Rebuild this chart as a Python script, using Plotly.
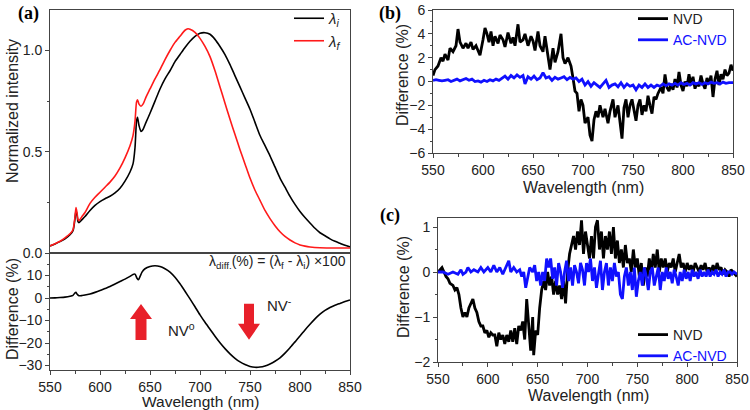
import plotly.graph_objects as go

# ---------------- Panel (a) data ----------------
wl_i = [550, 555, 560, 565, 570, 573, 575, 576, 577, 578, 579, 582, 585, 590, 595, 600, 605, 610, 615, 620,
        625, 630, 633, 635, 636.5, 637.5, 639, 641, 643, 646, 650, 655, 660, 665, 670, 675, 680, 685, 690, 695,
        700, 705, 710, 715, 720, 725, 730, 735, 740, 745, 750, 755, 760, 765, 770, 775, 780, 785, 790, 795,
        800, 805, 810, 815, 820, 825, 830, 835, 840, 845, 850]
lam_i = [0.035, 0.045, 0.056, 0.07, 0.09, 0.11, 0.17, 0.21, 0.19, 0.155, 0.15, 0.165, 0.18, 0.21, 0.235, 0.254, 0.268, 0.28, 0.297, 0.32,
         0.355, 0.40, 0.44, 0.52, 0.65, 0.67, 0.63, 0.60, 0.61, 0.645, 0.69, 0.75, 0.81, 0.86, 0.90, 0.945, 0.98, 1.015, 1.046, 1.07,
         1.085, 1.088, 1.08, 1.055, 1.02, 0.98, 0.93, 0.875, 0.82, 0.765, 0.71, 0.645, 0.58, 0.53, 0.48, 0.425, 0.37, 0.325, 0.28, 0.24,
         0.205, 0.175, 0.148, 0.122, 0.10, 0.085, 0.07, 0.058, 0.048, 0.038, 0.03]

wl_f = [550, 555, 560, 565, 570, 573, 575, 576, 577, 578, 579, 582, 585, 590, 595, 600, 605, 610, 615, 620,
        625, 630, 633, 635, 636.5, 637.5, 639, 641, 643, 646, 650, 655, 660, 665, 670, 675, 680, 685, 688, 690,
        695, 700, 705, 710, 715, 720, 725, 730, 735, 740, 745, 750, 755, 760, 765, 770, 775, 780, 785, 790,
        795, 800, 805, 810, 820, 830, 840, 850]
lam_f = [0.035, 0.046, 0.058, 0.075, 0.095, 0.115, 0.18, 0.225, 0.2, 0.165, 0.16, 0.18, 0.2, 0.245, 0.275, 0.30, 0.325, 0.35, 0.38, 0.42,
         0.47, 0.53, 0.58, 0.65, 0.745, 0.757, 0.735, 0.725, 0.735, 0.77, 0.81, 0.86, 0.905, 0.955, 1.0, 1.04, 1.07, 1.1, 1.107, 1.105,
         1.09, 1.06, 1.02, 0.97, 0.9, 0.82, 0.74, 0.66, 0.585, 0.51, 0.44, 0.37, 0.31, 0.26, 0.21, 0.17, 0.135, 0.105, 0.082, 0.064,
         0.05, 0.04, 0.034, 0.03, 0.026, 0.025, 0.025, 0.025]

wl_diff = [550, 555, 560, 565, 570, 573, 575, 576, 577, 579, 582, 585, 590, 595, 600, 605, 610, 615, 620, 625,
           630, 633, 635, 637, 638.5, 640, 642, 645, 650, 655, 660, 665, 670, 675, 680, 685, 690, 695, 700, 705,
           710, 715, 720, 725, 730, 735, 740, 745, 750, 755, 760, 765, 770, 775, 780, 785, 790, 795, 800, 805,
           810, 815, 820, 825, 830, 835, 840, 845, 850]
diff_a = [0, 0.05, 0.2, 0.4, 0.8, 1.2, 2.3, 2.5, 1.8, 1.0, 1.1, 1.3, 1.8, 2.5, 3.3, 4.2, 5.1, 6.2, 7.3, 8.4,
          9.6, 10.5, 10.6, 8.8, 8.1, 9.5, 11.5, 13, 14, 14.3, 14, 13, 11.5, 9.2, 6.3, 3.0, -0.4, -3.9, -7.5, -10.8,
          -13.9, -17, -19.9, -22.5, -24.8, -26.8, -28.4, -29.6, -30.4, -30.8, -30.7, -30.2, -29.3, -28.1, -26.6, -24.5, -22.1, -19.5, -16.9, -14.2,
          -11.7, -9.3, -7.2, -5.5, -4.2, -3.2, -2.4, -1.6, -0.9]

# ---------------- Panel (b) data ----------------
wl_b_nvd = [550, 552, 555, 558, 560, 562, 565, 567, 570, 573, 575, 577, 580, 583, 585, 588, 590, 593, 595, 597,
            600, 602, 604, 606, 608, 610, 612, 615, 617, 620, 622, 625, 628, 630, 632, 635, 637, 640, 642, 645,
            648, 650, 652, 655, 657, 660, 662, 665, 667, 670, 672, 675, 678, 680, 682, 685, 688, 690, 692, 694,
            696, 698, 700, 702, 705, 707, 709, 711, 713, 715, 717, 720, 722, 725, 727, 730, 732, 735, 737, 739,
            741, 743, 745, 747, 749, 751, 753, 755, 757, 759, 761, 763, 765, 767, 769, 771, 773, 775, 778, 780,
            782, 784, 786, 788, 790, 792, 794, 796, 798, 800, 802, 804, 806, 808, 810, 812, 814, 816, 818, 820,
            822, 824, 826, 828, 830, 832, 834, 836, 838, 840, 842, 844, 846, 848, 850]
nvd_b = [0.5, 1.0, 1.3, 2.0, 1.7, 2.3, 1.8, 2.8, 2.5, 3.0, 4.4, 3.3, 2.8, 3.2, 2.8, 3.3, 2.7, 3.0, 2.6, 2.2,
         3.5, 4.5, 4.0, 3.3, 4.2, 3.0, 3.8, 3.2, 3.9, 3.5, 2.9, 4.1, 3.2, 3.7, 3.0, 4.8, 3.3, 3.5, 4.0, 3.0,
         3.8, 3.4, 2.6, 4.2, 3.0, 2.5, 3.8, 2.0, 1.0, 2.8, 1.6, 2.5, 4.0, 2.0, 1.5, 2.0, 1.3, 0.3, -0.8, -1.0,
         -2.5, -1.5, -2.0, -3.5, -3.0, -4.5, -5.0, -3.2, -2.5, -3.0, -2.0, -3.0, -2.3, -3.5, -2.5, -1.5, -3.0, -2.0, -3.5, -4.8,
         -2.2, -1.5, -3.0, -2.0, -1.5, -2.5, -3.3, -2.0, -1.5, -2.8, -2.0, -2.5, -1.2, -2.0, -2.7, -1.3, -1.5, -1.0, -0.5, -1.0,
         0.6, -0.5, -0.8, -0.2, -0.7, 0.2, -0.5, 0.8, -0.3, -0.8, 0.0, -0.4, 0.6, -0.3, 0.4, -0.6, -0.1, -0.4, 0.5, -0.2,
         -0.6, 0.3, -0.2, 0.5, -1.3, 0.2, 0.9, -0.3, 0.6, 0.2, 1.0, 0.5, 0.7, 1.4, 0.9]

wl_b_ac = [550, 553, 556, 559, 562, 565, 568, 571, 574, 577, 580, 583, 586, 589, 592, 595, 598, 601, 604, 607,
           610, 613, 616, 619, 622, 625, 628, 631, 634, 637, 640, 642, 645, 648, 651, 654, 657, 660, 663, 666,
           669, 672, 675, 678, 681, 684, 687, 690, 693, 696, 699, 702, 705, 708, 711, 714, 717, 720, 723, 726,
           729, 732, 735, 738, 741, 744, 747, 750, 753, 756, 759, 762, 765, 768, 771, 774, 777, 780, 783, 786,
           789, 792, 795, 798, 801, 804, 807, 810, 813, 816, 819, 822, 825, 828, 831, 834, 837, 840, 843, 846, 850]
ac_b = [0.1, 0.15, 0.1, 0.05, 0.1, 0.15, 0.0, 0.1, 0.2, 0.05, 0.15, 0.25, 0.1, 0.2, 0.0, 0.05, -0.05, 0.1, 0.0, 0.15,
        0.05, 0.2, 0.1, 0.3, 0.45, 0.2, 0.5, 0.3, 0.55, 0.35, 0.5, -0.2, 0.4, 0.2, 0.45, 0.15, 0.3, 0.75, 0.3, 0.4,
        0.1, 0.35, 0.2, 0.3, 0.4, 0.15, 0.35, 0.2, 0.3, 0.0, 0.2, -0.3, 0.0, -0.4, -0.1, -0.3, -0.5, -0.2, 0.1, -0.5,
        -0.3, -0.2, -0.45, -0.1, -0.5, -0.2, -0.4, -0.3, -0.7, -0.3, -0.5, -0.2, -0.5, -0.3, -0.5, -0.3, -0.4, -0.2, -0.35, -0.2,
        -0.3, -0.15, -0.3, -0.1, -0.25, -0.15, -0.3, -0.1, -0.2, -0.1, -0.25, -0.1, -0.2, -0.05, -0.15, -0.1, -0.2, -0.05, -0.15, -0.1, -0.1]

# ---------------- Panel (c) data ----------------
wl_c_nvd = [550, 552, 554, 556, 558, 560, 562, 565, 567, 569, 571, 573, 575, 577, 579, 581, 583, 585, 587, 589,
            591, 593, 595, 597, 599, 601, 603, 605, 607, 609, 611, 613, 615, 617, 619, 621, 623, 625, 627, 629,
            631, 633, 635, 637, 639, 641, 643, 645, 646, 648, 650, 652, 654, 656, 658, 660, 662, 664, 666, 668,
            670, 672, 674, 676, 678, 680, 682, 684, 686, 688, 690, 692, 694, 696, 698, 700, 702, 704, 706, 708,
            710, 712, 714, 716, 718, 720, 722, 724, 726, 728, 730, 732, 734, 736, 738, 740, 742, 744, 746, 748,
            750, 752, 754, 756, 758, 760, 762, 764, 766, 768, 770, 772, 774, 776, 778, 780, 782, 784, 786, 788,
            790, 792, 794, 796, 798, 800, 802, 804, 806, 808, 810, 812, 814, 816, 818, 820, 822, 824, 826, 828,
            830, 832, 834, 836, 838, 840, 842, 844, 846, 848, 850]
nvd_c = [0.0, 0.05, 0.1, 0.0, -0.1, -0.15, -0.25, -0.3, -0.4, -0.35, -0.5, -0.8, -1.0, -0.9, -1.0, -0.8, -0.7, -0.6, -0.8, -0.9,
         -1.1, -1.2, -1.2, -1.35, -1.3, -1.45, -1.35, -1.4, -1.4, -1.65, -1.35, -1.5, -1.4, -1.6, -1.4, -1.55, -1.3, -1.55, -1.25, -1.6,
         -1.2, -1.3, -1.1, -1.5, -0.6, -1.2, -1.75, -1.0, -1.85, -1.3, -1.4, -0.8, -0.4, -0.2, -0.4, 0.0, -0.3, -0.1, -0.5, -0.2,
         -0.5, -0.3, -0.6, -0.2, -0.7, 0.0, 0.4, 0.6, 0.8, 0.5, 0.9, 0.6, 1.15, 0.4, 0.9, 0.6, 0.3, 0.8, 0.3, 1.0,
         1.15, 0.5, 0.9, 0.3, 0.8, 0.5, 0.9, 0.4, 1.0, 0.3, 0.7, 0.2, 0.5, 0.1, 0.6, 0.2, 0.3, 0.0, 0.5, 0.1,
         0.3, -0.1, 0.2, -0.3, 0.1, -0.1, 0.3, 0.0, 0.4, 0.1, 0.5, 0.0, 0.3, 0.1, 0.3, 0.0, 0.2, 0.1, 0.3, 0.0,
         0.2, 0.4, 0.1, 0.2, 0.0, 0.2, 0.05, 0.15, 0.0, 0.2, 0.1, 0.0, 0.15, 0.05, 0.2, 0.0, 0.1, 0.0, 0.15, 0.0,
         0.2, 0.05, 0.1, -0.05, 0.05, 0.0, -0.1, 0.05, 0.0, -0.05, -0.1]

wl_c_ac = [550, 555, 560, 565, 570, 573, 575, 578, 580, 583, 586, 590, 593, 596, 600, 603, 606, 609, 612, 615,
           618, 621, 623, 626, 629, 632, 634, 636, 638, 640, 642, 645, 647, 649, 651, 653, 655, 657, 659, 661,
           663, 665, 667, 669, 671, 673, 675, 677, 679, 681, 683, 685, 687, 689, 691, 693, 695, 697, 699, 701,
           703, 705, 707, 709, 711, 713, 715, 717, 719, 721, 723, 725, 727, 729, 731, 733, 735, 737, 739, 741,
           743, 745, 747, 749, 751, 753, 755, 757, 759, 761, 763, 765, 767, 769, 771, 773, 775, 777, 779, 781,
           783, 785, 787, 789, 791, 793, 795, 797, 799, 801, 803, 805, 807, 809, 811, 813, 815, 817, 819, 821,
           823, 825, 827, 829, 831, 833, 835, 837, 839, 841, 843, 845, 847, 850]
ac_c = [0.0, 0.0, -0.05, 0.0, -0.05, 0.05, -0.05, 0.0, 0.1, 0.0, 0.05, 0.0, 0.1, 0.0, 0.1, 0.0, 0.15, 0.0, 0.1, -0.05,
        0.1, 0.25, 0.0, 0.1, 0.0, 0.05, -0.1, 0.0, -0.35, -0.1, 0.1, 0.0, 0.15, -0.2, 0.0, -0.3, 0.0, -0.2, 0.3, 0.1,
        0.3, -0.15, 0.1, -0.3, 0.2, 0.0, -0.35, 0.0, 0.25, -0.2, 0.1, -0.3, 0.15, 0.0, -0.25, 0.2, 0.05, -0.3, 0.2, 0.0,
        0.3, -0.2, 0.1, -0.35, 0.0, 0.25, -0.4, 0.0, 0.2, -0.3, 0.1, -0.2, 0.2, -0.1, 0.0, -0.5, -0.6, -0.1, 0.1, -0.3,
        0.0, -0.4, 0.1, -0.55, -0.2, 0.0, -0.3, 0.1, -0.1, -0.4, 0.0, 0.1, -0.3, -0.1, 0.1, -0.4, 0.0, -0.2, 0.1, -0.15,
        0.0, -0.25, 0.05, -0.1, -0.3, 0.0, -0.2, 0.05, -0.15, 0.0, -0.2, 0.05, -0.1, 0.0, -0.15, 0.05, -0.1, 0.0, -0.1, 0.05,
        -0.1, 0.0, -0.05, 0.05, -0.1, 0.0, -0.05, 0.05, -0.1, 0.0, 0.0, -0.05, 0.0, -0.05]

FONT = "Liberation Sans, Arial, sans-serif"
AX = "#444444"
TXT = "#222222"
BLUE = "#1010ff"
RED = "#ff1a1a"
ARROW_RED = "#e8202a"

fig = go.Figure()

fig.add_trace(go.Scatter(x=wl_i, y=lam_i, mode="lines", name="<i>λ<sub>i</sub></i>",
                         line=dict(color="black", width=1.6, shape="spline", smoothing=0.6),
                         xaxis="x", yaxis="y", legend="legend"))
fig.add_trace(go.Scatter(x=wl_f, y=lam_f, mode="lines", name="<i>λ<sub>f</sub></i>",
                         line=dict(color=RED, width=1.6, shape="spline", smoothing=0.6),
                         xaxis="x", yaxis="y", legend="legend"))
fig.add_trace(go.Scatter(x=wl_diff, y=diff_a, mode="lines", showlegend=False,
                         line=dict(color="black", width=1.6, shape="spline", smoothing=0.6),
                         xaxis="x2", yaxis="y2"))

fig.add_trace(go.Scatter(x=wl_b_nvd, y=nvd_b, mode="lines", name="NVD",
                         line=dict(color="black", width=2.8), xaxis="x3", yaxis="y3", legend="legend2"))
fig.add_trace(go.Scatter(x=wl_b_ac, y=ac_b, mode="lines", name=f"<span style='color:{BLUE}'>AC-NVD</span>",
                         line=dict(color=BLUE, width=2.8), xaxis="x3", yaxis="y3", legend="legend2"))

fig.add_trace(go.Scatter(x=wl_c_nvd, y=nvd_c, mode="lines", name="NVD",
                         line=dict(color="black", width=2.8), xaxis="x4", yaxis="y4", legend="legend3"))
fig.add_trace(go.Scatter(x=wl_c_ac, y=ac_c, mode="lines", name=f"<span style='color:{BLUE}'>AC-NVD</span>",
                         line=dict(color=BLUE, width=2.8), xaxis="x4", yaxis="y4", legend="legend3"))

W, H = 750, 410


def px_x(p):
    return p / W


def px_y(p):
    return 1 - p / H


common = dict(showline=True, mirror=True, linecolor=AX, linewidth=1, showgrid=False, zeroline=False,
              automargin=False,
              ticks="outside", ticklen=4, tickcolor=AX, tickfont=dict(family=FONT, size=14, color=TXT))
xminor = dict(ticks="outside", ticklen=2.5, dtick=25, tickcolor=AX)

fig.update_layout(
    template="none",
    width=W, height=H, margin=dict(l=0, r=0, t=0, b=0, pad=0, autoexpand=False),
    paper_bgcolor="white", plot_bgcolor="white",
    font=dict(family=FONT, size=14, color=TXT),
    xaxis=dict(common, domain=[px_x(50), px_x(350)], range=[550, 850], anchor="y",
               showticklabels=False, ticks=""),
    yaxis=dict(common, domain=[px_y(253), px_y(10)], range=[0, 1.2], anchor="x",
               tickvals=[0, 0.5, 1.0], ticktext=["0.0", "0.5", "1.0"],
               minor=dict(ticks="outside", ticklen=2.5, tickvals=[0.25, 0.75], tickcolor=AX)),
    xaxis2=dict(common, domain=[px_x(50), px_x(350)], range=[550, 850], anchor="y2",
                dtick=50, tick0=550, minor=xminor),
    yaxis2=dict(common, domain=[px_y(370), px_y(253)], range=[-32, 20], anchor="x2",
                tickvals=[-30, -20, -10, 0, 10], minor=dict(ticks="outside", ticklen=2.5, dtick=5, tickcolor=AX)),
    xaxis3=dict(common, domain=[px_x(433), px_x(733)], range=[550, 850], anchor="y3",
                dtick=50, tick0=550, minor=xminor),
    yaxis3=dict(common, domain=[px_y(153), px_y(10)], range=[-6, 6], anchor="x3",
                dtick=2, minor=dict(ticks="outside", ticklen=2.5, dtick=1, tickcolor=AX)),
    xaxis4=dict(common, domain=[px_x(438), px_x(737)], range=[550, 850], anchor="y4",
                dtick=50, tick0=550, minor=xminor),
    yaxis4=dict(common, domain=[px_y(362), px_y(218)], range=[-2, 1.2], anchor="x4",
                tickvals=[-2, -1, 0, 1], minor=dict(ticks="outside", ticklen=2.5, dtick=0.5, tickcolor=AX)),
    legend=dict(x=px_x(289), y=px_y(2), xanchor="left", yanchor="top", bgcolor="rgba(0,0,0,0)",
                font=dict(family=FONT, size=15, color=TXT), itemwidth=30, tracegroupgap=0),
    legend2=dict(x=px_x(633), y=px_y(3), xanchor="left", yanchor="top", bgcolor="rgba(0,0,0,0)",
                 font=dict(family=FONT, size=14, color=TXT), itemwidth=30),
    legend3=dict(x=px_x(633), y=px_y(319), xanchor="left", yanchor="top", bgcolor="rgba(0,0,0,0)",
                 font=dict(family=FONT, size=14, color=TXT), itemwidth=30),
)

ann = []
# Panel labels
for txt, x, y in [("(a)", 28, 13), ("(b)", 390, 13), ("(c)", 390, 215)]:
    ann.append(dict(text=f"<b>{txt}</b>", x=px_x(x), y=px_y(y), xref="paper", yref="paper",
                    xanchor="center", yanchor="middle",
                    showarrow=False, font=dict(family="Liberation Serif, Times New Roman, serif", size=18, color="black")))
# Axis titles
for txt, x, y in [("Normalized intensity", 12, 111), ("Difference (%)", 12, 309),
                  ("Difference (%)", 403, 75), ("Difference (%)", 403, 287)]:
    ann.append(dict(text=txt, x=px_x(x), y=px_y(y), xref="paper", yref="paper", textangle=-90,
                    xanchor="center", yanchor="middle",
                    showarrow=False, font=dict(family=FONT, size=16, color=TXT)))
for x, y, fs in [(200, 401, 15.5), (583, 188, 16), (588, 395, 16)]:
    ann.append(dict(text="Wavelength (nm)", x=px_x(x), y=px_y(y), xref="paper", yref="paper",
                    xanchor="center", yanchor="middle",
                    showarrow=False, font=dict(family=FONT, size=fs, color=TXT)))
# Formula
ann.append(dict(text="λ<sub>diff.</sub>(%) = (λ<sub>f</sub> - λ<sub>i</sub>) ×100", x=px_x(348), y=px_y(262),
                xref="paper", yref="paper", xanchor="right", yanchor="middle", showarrow=False,
                font=dict(family=FONT, size=14, color=TXT)))
ann.append(dict(text="NV<sup>o</sup>", x=681, y=-14, xref="x2", yref="y2", showarrow=False,
                xanchor="center", yanchor="middle", font=dict(family=FONT, size=15, color=TXT)))
ann.append(dict(text="NV<sup>-</sup>", x=779, y=-3.0, xref="x2", yref="y2", showarrow=False,
                xanchor="center", yanchor="middle", font=dict(family=FONT, size=15, color=TXT)))
fig.update_layout(annotations=ann)

# Red block arrows (pixel-sized paths anchored in data coordinates)
up_path = "M -5.5,0 L 5.5,0 L 5.5,21 L 11,21 L 0,36 L -11,21 L -5.5,21 Z"
down_path = "M -5,0 L 5,0 L 5,-20 L 11,-20 L 0,-36 L -11,-20 L -5,-20 Z"
fig.add_shape(type="path", path=up_path, xref="x2", yref="y2", xsizemode="pixel", ysizemode="pixel",
              xanchor=641, yanchor=-18.7, fillcolor=ARROW_RED, line=dict(width=0))
fig.add_shape(type="path", path=down_path, xref="x2", yref="y2", xsizemode="pixel", ysizemode="pixel",
              xanchor=749, yanchor=-2.6, fillcolor=ARROW_RED, line=dict(width=0))

fig.write_html("out.html", config={"displayModeBar": False},
               post_script="document.body.style.margin='0px';document.body.style.overflow='hidden';")
